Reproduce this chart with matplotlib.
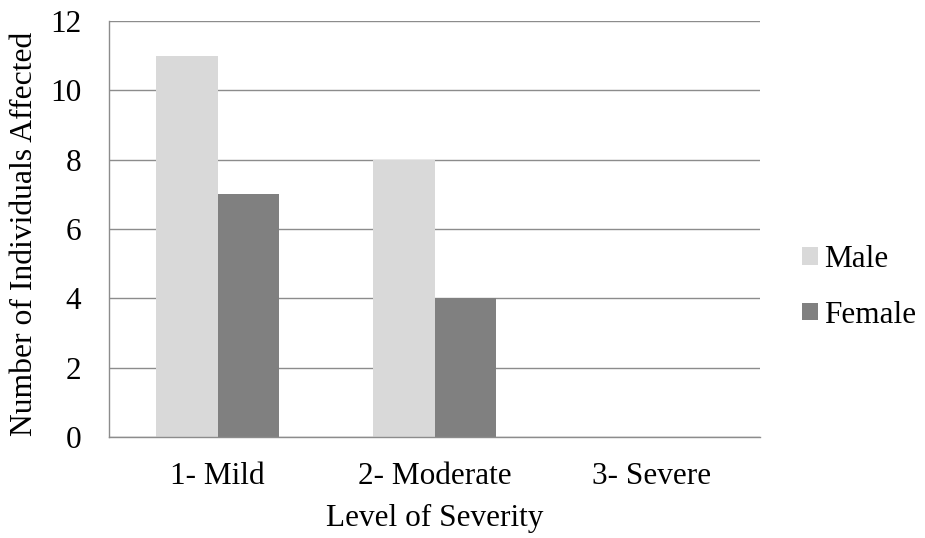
import matplotlib
matplotlib.use("Agg")
import matplotlib.pyplot as plt
import numpy as np

categories = ["1- Mild", "2- Moderate", "3- Severe"]
male = [11, 8, 0]
female = [7, 4, 0]

plt.rcParams["font.family"] = ["Liberation Serif", "DejaVu Serif"]
plt.rcParams["font.size"] = 22.5

fig = plt.figure(figsize=(9.25, 5.38), dpi=100)
ax = fig.add_axes([109 / 925, 1 - 437 / 538, (760 - 109) / 925, (437 - 21) / 538])

x = np.arange(len(categories))
w = 0.285
ax.bar(x - w / 2, male, w, color="#d9d9d9", label="Male", zorder=2)
ax.bar(x + w / 2, female, w, color="#808080", label="Female", zorder=2)

ax.set_xlim(-0.5, 2.5)
ax.set_ylim(0, 12)
ax.set_yticks(range(0, 13, 2))
ax.set_xticks(x)
ax.set_xticklabels(categories)
ax.tick_params(length=0)
ax.tick_params(axis="y", pad=20)
ax.tick_params(axis="x", pad=18)
ax.yaxis.grid(True, color="#8c8c8c", linewidth=1)
ax.set_axisbelow(True)
for s in ["top", "right"]:
    ax.spines[s].set_visible(False)
for s in ["left", "bottom"]:
    ax.spines[s].set_color("#8c8c8c")
    ax.spines[s].set_linewidth(1)

ax.set_xlabel("Level of Severity", labelpad=9)
ax.set_ylabel("Number of Individuals Affected", fontsize=22.8)
ax.yaxis.set_label_coords(-0.107, 0.489)

ax.legend(loc="center left", bbox_to_anchor=(1.022, 0.36), frameon=False,
          handlelength=0.5, handleheight=0.5, handletextpad=0.2, labelspacing=0.85)

fig.savefig("out.png", dpi=100)
